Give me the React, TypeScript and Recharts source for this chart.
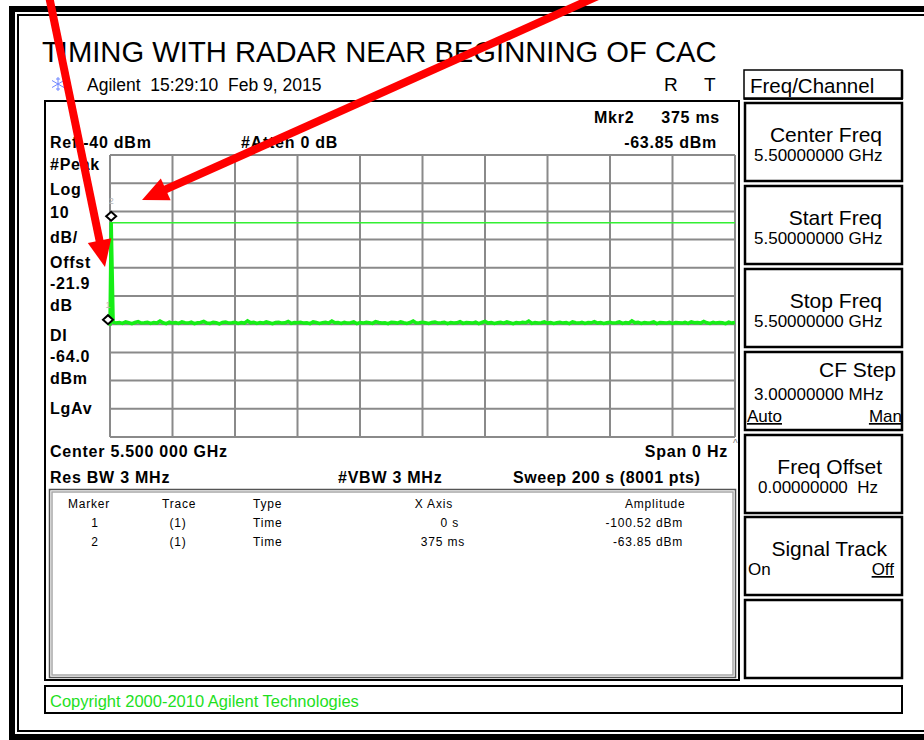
import React from 'react';
import { LineChart, Line, XAxis, YAxis, CartesianGrid, ReferenceLine, ReferenceDot } from 'recharts';

const FONT = '"Liberation Sans", Arial, Helvetica, sans-serif';
const TRACE_GREEN = '#16ee16';

// axis divisions (sweep time in s, level in dBm)
const timeTicks = [0, 20, 40, 60, 80, 100, 120, 140, 160, 180, 200];
const levelTicks = [-140, -130, -120, -110, -100, -90, -80, -70, -60, -50, -40];

// radar burst at the start of the sweep
const burstTimes = [0, 0.375];
const burstDbm = [-100.52, -63.85];

// log-averaged noise floor, one value per second of sweep
const noiseDbm = [
  -99.3, -99.6, -99.4, -99.7, -99.2, -99.5, -99.8, -99.4, -99.1, -99.6, -99.5, -99.3, -99.7, -99.4, -99.6, -98.9, -99.5, -99.8, -99.3, -99.6,
  -99.4, -99.7, -99.2, -99.5, -99.6, -99.3, -99.8, -99.5, -99.4, -99.0, -99.6, -99.7, -99.3, -99.5, -99.9, -99.4, -99.2, -99.6, -99.5, -99.3,
  -99.7, -99.4, -99.6, -98.8, -99.5, -99.3, -99.7, -99.4, -99.6, -99.2, -99.5, -99.8, -99.4, -99.3, -99.6, -99.5, -99.0, -99.7, -99.4, -99.5,
  -99.3, -99.6, -99.5, -99.8, -99.2, -99.4, -99.7, -99.5, -99.3, -99.6, -98.9, -99.5, -99.4, -99.7, -99.3, -99.6, -99.5, -99.2, -99.8, -99.4,
  -99.6, -99.3, -99.5, -99.7, -99.1, -99.4, -99.6, -99.5, -99.8, -99.3, -99.4, -99.6, -99.2, -99.5, -99.7, -99.4, -98.9, -99.6, -99.5, -99.3,
  -99.5, -99.7, -99.4, -99.2, -99.6, -99.5, -99.3, -99.8, -99.4, -99.6, -99.5, -99.1, -99.7, -99.4, -99.5, -99.6, -99.3, -99.8, -99.4, -99.0,
  -99.6, -99.4, -99.7, -99.5, -99.3, -99.6, -99.2, -99.5, -99.8, -99.4, -99.6, -99.3, -99.5, -98.9, -99.7, -99.4, -99.6, -99.5, -99.2, -99.6,
  -99.4, -99.7, -99.5, -99.3, -99.6, -99.4, -99.8, -99.2, -99.5, -99.6, -99.3, -99.7, -99.4, -99.5, -99.1, -99.6, -99.4, -99.7, -99.5, -99.3,
  -99.6, -99.5, -99.2, -99.7, -99.4, -99.6, -98.8, -99.5, -99.3, -99.7, -99.4, -99.6, -99.5, -99.2, -99.8, -99.4, -99.5, -99.6, -99.3, -99.7,
  -99.4, -99.5, -99.6, -99.3, -99.7, -99.2, -99.5, -99.4, -99.6, -99.0, -99.5, -99.7, -99.3, -99.6, -99.4, -99.5, -99.8, -99.3, -99.6, -99.4,
];
const sweepSeconds = 200;

const displayLineDbm = -64.0;

// markers
const markerNames = ['1', '2'];
const markerTimes = [0, 0.375];
const markerDbm = [-100.52, -63.85];
const markerXText = ['0 s', '375 ms'];
const markerAmpText = ['-100.52 dBm', '-63.85 dBm'];

// left annotation column
const sideLabels = ['#Peak', 'Log', '10', 'dB/', 'Offst', '-21.9', 'dB', 'DI', '-64.0', 'dBm', 'LgAv'];
const sideBaselines = [170, 195, 218, 243, 268, 289, 311, 341, 362, 384, 414];

// softkey menu
const softkeys = [
  { title: 'Center Freq', value: '5.50000000 GHz' },
  { title: 'Start Freq', value: '5.50000000 GHz' },
  { title: 'Stop Freq', value: '5.50000000 GHz' },
  { title: 'CF Step', value: '3.00000000 MHz' },
  { title: 'Freq Offset', value: '0.00000000  Hz' },
  { title: 'Signal Track', value: '' },
  { title: '', value: '' },
];
const softkeyTops = [103, 186, 269, 352, 435, 517, 600];

const traceData = [
  ...burstTimes.map((t, i) => ({ t, dbm: burstDbm[i] })),
  ...noiseDbm.map((v, i) => ({ t: ((i + 1) * sweepSeconds) / noiseDbm.length, dbm: v })),
];

const makeDiamond = (label: string) => (props: any) => {
  const { cx, cy } = props;
  const y = cy - 6;
  const x = label === '1' ? cx - 2 : cx;
  return (
    <g>
      <path
        d={`M${x - 5},${y} L${x},${y - 4.5} L${x + 5},${y} L${x},${y + 4.5} Z`}
        fill="#fff"
        stroke="#000"
        strokeWidth={2}
      />
      <text x={x} y={y - 12} fontSize={9} fill="#b5b5b5" textAnchor="middle" fontFamily={FONT}>
        {label}
      </text>
    </g>
  );
};

const Arrow = ({ x1, y1, x2, y2, headLen, headHalf }: any) => {
  const dx = x2 - x1;
  const dy = y2 - y1;
  const len = Math.sqrt(dx * dx + dy * dy);
  const ux = dx / len;
  const uy = dy / len;
  const bx = x2 - ux * headLen;
  const by = y2 - uy * headLen;
  const px = -uy;
  const py = ux;
  return (
    <g>
      <line x1={x1} y1={y1} x2={bx + ux * 2} y2={by + uy * 2} stroke="#ff0000" strokeWidth={8} />
      <polygon
        points={`${x2},${y2} ${bx + px * headHalf},${by + py * headHalf} ${bx - px * headHalf},${by - py * headHalf}`}
        fill="#ff0000"
      />
    </g>
  );
};

const Snowflake = ({ x, y }: { x: number; y: number }) => (
  <g stroke="#6f86ff" strokeWidth={1}>
    <line x1={x} y1={y - 7} x2={x} y2={y + 7} />
    <line x1={x - 6} y1={y - 3.5} x2={x + 6} y2={y + 3.5} />
    <line x1={x - 6} y1={y + 3.5} x2={x + 6} y2={y - 3.5} />
    <line x1={x - 2} y1={y - 5} x2={x + 2} y2={y - 5} />
    <line x1={x - 2} y1={y + 5} x2={x + 2} y2={y + 5} />
  </g>
);

export default function App() {
  const bold = { fontFamily: FONT, fontWeight: 700, fontSize: 16, fill: '#000', letterSpacing: 0.75 } as const;
  const table = { fontFamily: FONT, fontSize: 12, fill: '#000', letterSpacing: 0.8 } as const;
  const key = { fontFamily: FONT, fontSize: 21, fill: '#000' } as const;
  const keyVal = { fontFamily: FONT, fontSize: 17, fill: '#000' } as const;

  return (
    <div style={{ position: 'absolute', left: 0, top: 0, width: 924, height: 740, background: '#fff', overflow: 'hidden' }}>
      <svg width={924} height={740} style={{ position: 'absolute', left: 0, top: 0 }}>
        {/* outer frame */}
        <rect x={9} y={6} width={915} height={6} fill="#000" />
        <rect x={9} y={6} width={6} height={734} fill="#000" />
        <rect x={9} y={734} width={915} height={6} fill="#000" />
        <rect x={17} y={14} width={907} height={2} fill="#000" />
        <rect x={17} y={14} width={2} height={718} fill="#000" />
        <rect x={17} y={730} width={907} height={2} fill="#000" />

        <text x={42} y={62} fontFamily={FONT} fontSize={29.2} fill="#000">
          TIMING WITH RADAR NEAR BEGINNING OF CAC
        </text>

        <Snowflake x={58} y={84} />
        <text x={87} y={91} fontFamily={FONT} fontSize={17.5} fill="#000" xmlSpace="preserve">
          {'Agilent  15:29:10  Feb 9, 2015'}
        </text>
        <text x={664} y={91} fontFamily={FONT} fontSize={19} fill="#000">R</text>
        <text x={704} y={91} fontFamily={FONT} fontSize={19} fill="#000">T</text>

        {/* display window */}
        <rect x={45} y={101} width={694} height={579} fill="none" stroke="#000" strokeWidth={2} />

        <text x={594} y={123} {...bold}>Mkr2</text>
        <text x={720} y={123} {...bold} textAnchor="end">375 ms</text>
        <text x={50} y={148} {...bold}>Ref -40 dBm</text>
        <text x={241} y={148} {...bold}>#Atten 0 dB</text>
        <text x={717} y={148} {...bold} textAnchor="end">-63.85 dBm</text>

        {sideLabels.map((s, i) => (
          <text key={s + i} x={50} y={sideBaselines[i]} {...bold}>{s}</text>
        ))}

        <text x={50} y={457} {...bold}>Center 5.500 000 GHz</text>
        <text x={728} y={457} {...bold} textAnchor="end">Span 0 Hz</text>
        <text x={733} y={447} fontFamily={FONT} fontSize={10} fill="#777">^</text>
        <text x={50} y={483} {...bold}>Res BW 3 MHz</text>
        <text x={338} y={483} {...bold}>#VBW 3 MHz</text>
        <text x={513} y={483} {...bold} letterSpacing={0.6}>Sweep 200 s (8001 pts)</text>

        {/* marker table */}
        <rect x={49.5} y={489.5} width={686} height={188} fill="none" stroke="#555" strokeWidth={1.5} />
        <rect x={52} y={492} width={681} height={183} fill="none" stroke="#a8a8a8" strokeWidth={1.5} />
        <text x={68} y={508} {...table}>Marker</text>
        <text x={162} y={508} {...table}>Trace</text>
        <text x={253} y={508} {...table}>Type</text>
        <text x={453} y={508} {...table} textAnchor="end">X Axis</text>
        <text x={625} y={508} {...table}>Amplitude</text>
        {markerNames.map((m, i) => (
          <g key={m}>
            <text x={95} y={527 + i * 18.5} {...table} textAnchor="middle">{m}</text>
            <text x={178} y={527 + i * 18.5} {...table} textAnchor="middle">(1)</text>
            <text x={253} y={527 + i * 18.5} {...table}>Time</text>
            <text x={i === 0 ? 459 : 465} y={527 + i * 18.5} {...table} textAnchor="end">{markerXText[i]}</text>
            <text x={683} y={527 + i * 18.5} {...table} textAnchor="end">{markerAmpText[i]}</text>
          </g>
        ))}

        {/* status bar */}
        <rect x={45} y={686} width={857} height={27} fill="none" stroke="#000" strokeWidth={2} />
        <text x={50} y={707} fontFamily={FONT} fontSize={16.5} fill="#1ee01e">
          Copyright 2000-2010 Agilent Technologies
        </text>

        {/* softkeys */}
        <rect x={744} y={70} width={158} height={29} fill="none" stroke="#000" strokeWidth={1.5} />
        <line x1={744} y1={98.5} x2={903} y2={98.5} stroke="#000" strokeWidth={2.5} />
        <line x1={902} y1={70} x2={902} y2={99} stroke="#000" strokeWidth={2.5} />
        <text x={750} y={92.5} fontFamily={FONT} fontSize={20.5} fill="#000">Freq/Channel</text>

        {softkeys.map((k, i) => {
          const top = softkeyTops[i];
          const threeLine = k.title === 'CF Step';
          return (
            <g key={i}>
              <rect x={745} y={top} width={157} height={78} fill="none" stroke="#000" strokeWidth={2.5} />
              {k.title && (
                <text
                  x={threeLine ? 896 : k.title === 'Signal Track' ? 887 : 882}
                  y={top + (threeLine ? 25 : 38.5)}
                  {...key}
                  textAnchor="end"
                >
                  {k.title}
                </text>
              )}
              {k.value && (
                <text x={k.title === 'Freq Offset' ? 758 : 754} y={top + (threeLine ? 48 : 58)} {...keyVal} xmlSpace="preserve">
                  {k.value}
                </text>
              )}
            </g>
          );
        })}
        <text x={747} y={422} {...keyVal} textDecoration="underline">Auto</text>
        <text x={902} y={422} {...keyVal} textAnchor="end" textDecoration="underline">Man</text>
        <text x={748} y={575} {...keyVal}>On</text>
        <text x={894} y={575} {...keyVal} textAnchor="end" textDecoration="underline">Off</text>
      </svg>

      <div style={{ position: 'absolute', left: 0, top: 0 }}>
        <LineChart
          width={924}
          height={740}
          data={traceData}
          margin={{ top: 155, right: 189, bottom: 303, left: 110 }}
        >
          <CartesianGrid stroke="#8a8a8a" strokeWidth={2} />
          <XAxis dataKey="t" type="number" domain={[0, sweepSeconds]} ticks={timeTicks} hide />
          <YAxis type="number" domain={[-140, -40]} ticks={levelTicks} hide />
          <ReferenceLine y={displayLineDbm} stroke="#33f033" strokeWidth={1.5} />
          <Line
            dataKey="dbm"
            stroke={TRACE_GREEN}
            strokeWidth={3.5}
            dot={false}
            isAnimationActive={false}
            strokeLinejoin="miter"
          />
          {markerNames.map((m, i) => (
            <ReferenceDot
              key={m}
              x={markerTimes[i]}
              y={markerDbm[i]}
              ifOverflow="visible"
              shape={makeDiamond(m)}
            />
          ))}
        </LineChart>
      </div>

      <svg width={924} height={740} style={{ position: 'absolute', left: 0, top: 0, pointerEvents: 'none' }}>
        <Arrow x1={49} y1={-4} x2={105} y2={267} headLen={27} headHalf={12} />
        <Arrow x1={598} y1={-4} x2={142} y2={200} headLen={26} headHalf={12} />
      </svg>
    </div>
  );
}
